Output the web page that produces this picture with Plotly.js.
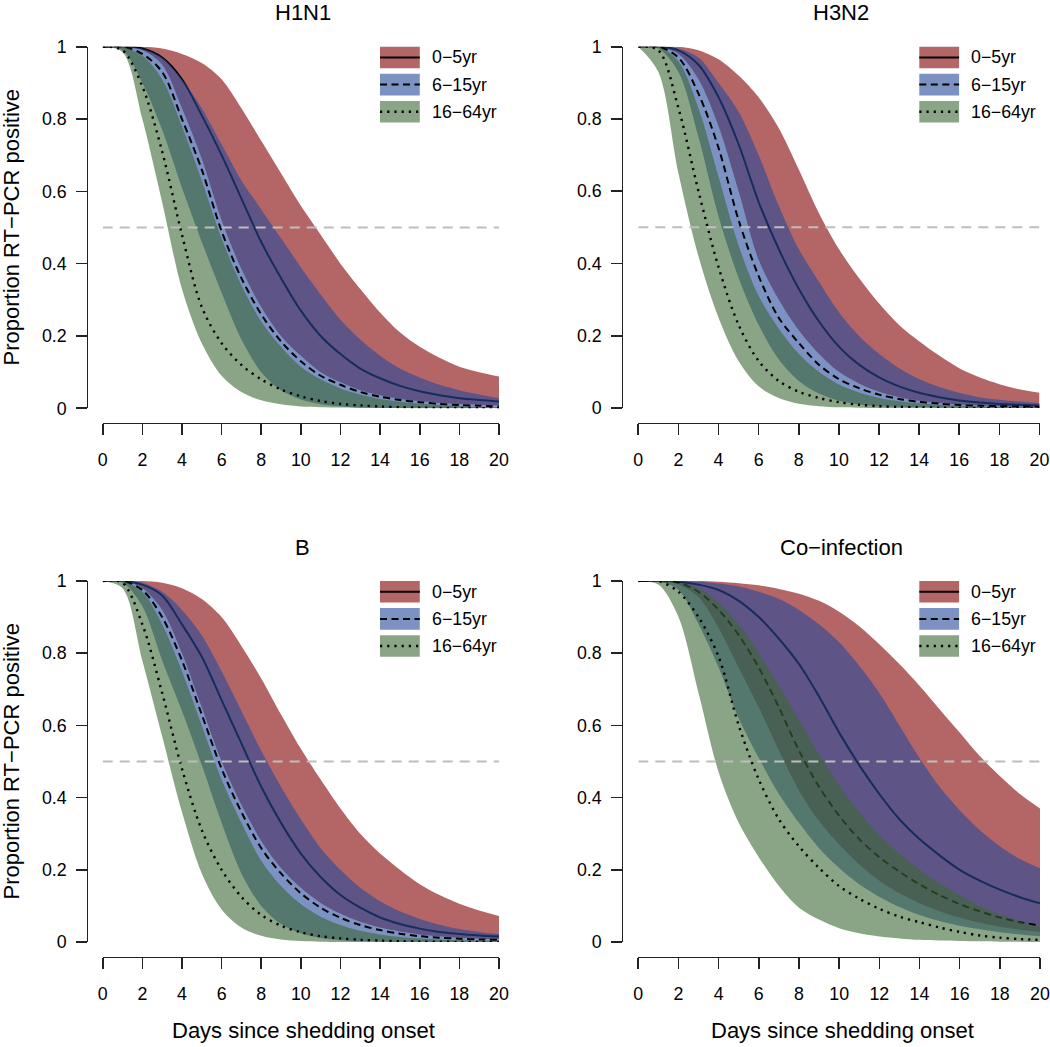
<!DOCTYPE html>
<html>
<head>
<meta charset="utf-8">
<script src="https://cdn.plot.ly/plotly-3.0.1.min.js"></script>
<style>
html,body{margin:0;padding:0;background:#fff;}
#chart{width:1050px;height:1047px;}
</style>
</head>
<body>
<div id="chart"></div>
<script>
// ---------------- DATA ----------------
const days = [0,1,2,3,4,5,6,7,8,9,10,11,12,13,14,15,16,17,18,19,20];
const panelTitles = ["H1N1", "H3N2", "B", "Co\u2212infection"];
const groupLabels = ["0\u22125yr", "6\u221215yr", "16\u221264yr"];

// H1N1
const h1n1_0to5_lo   = [1,1,0.99,0.95,0.83,0.69,0.52,0.385,0.28,0.2,0.145,0.1,0.072,0.05,0.036,0.026,0.02,0.015,0.012,0.01,0.008];
const h1n1_0to5_mid  = [1,1,0.995,0.97,0.91,0.81,0.70,0.58,0.46,0.36,0.27,0.2,0.15,0.11,0.083,0.062,0.047,0.036,0.028,0.023,0.019];
const h1n1_0to5_hi   = [1,1,1,0.995,0.98,0.955,0.91,0.83,0.74,0.65,0.56,0.48,0.40,0.33,0.265,0.21,0.17,0.14,0.115,0.1,0.088];
const h1n1_6to15_lo  = [1,0.99,0.9,0.77,0.61,0.46,0.32,0.19,0.1,0.05,0.024,0.011,0.005,0.002,0.001,0.0005,0,0,0,0,0];
const h1n1_6to15_mid = [1,1,0.98,0.93,0.80,0.66,0.49,0.36,0.26,0.185,0.13,0.09,0.065,0.045,0.032,0.023,0.017,0.012,0.009,0.007,0.005];
const h1n1_6to15_hi  = [1,1,0.995,0.97,0.91,0.83,0.73,0.63,0.55,0.47,0.39,0.315,0.245,0.19,0.145,0.11,0.085,0.065,0.05,0.038,0.028];
const h1n1_16to64_lo  = [1,0.985,0.8,0.57,0.33,0.18,0.09,0.045,0.022,0.011,0.005,0.003,0.002,0.001,0.0005,0,0,0,0,0,0];
const h1n1_16to64_mid = [1,0.99,0.89,0.71,0.48,0.28,0.18,0.12,0.08,0.052,0.033,0.02,0.012,0.008,0.005,0.003,0.002,0.001,0.001,0.0005,0];
const h1n1_16to64_hi  = [1,1,0.975,0.91,0.78,0.63,0.47,0.34,0.24,0.17,0.115,0.08,0.055,0.038,0.026,0.018,0.013,0.009,0.006,0.004,0.003];

// H3N2
const h3n2_0to5_lo   = [1,1,0.98,0.91,0.78,0.6,0.41,0.3,0.215,0.15,0.1,0.068,0.045,0.03,0.02,0.014,0.01,0.007,0.005,0.004,0.003];
const h3n2_0to5_mid  = [1,1,0.99,0.95,0.86,0.73,0.57,0.44,0.33,0.24,0.17,0.12,0.085,0.06,0.042,0.03,0.021,0.015,0.011,0.009,0.007];
const h3n2_0to5_hi   = [1,1,1,0.99,0.965,0.92,0.86,0.775,0.66,0.54,0.44,0.36,0.29,0.23,0.185,0.145,0.11,0.085,0.066,0.052,0.042];
const h3n2_6to15_lo  = [1,0.995,0.93,0.75,0.53,0.36,0.23,0.135,0.075,0.04,0.02,0.01,0.005,0.003,0.002,0.001,0.001,0,0,0,0];
const h3n2_6to15_mid = [1,1,0.97,0.87,0.72,0.52,0.365,0.25,0.18,0.12,0.08,0.055,0.037,0.025,0.017,0.012,0.008,0.006,0.005,0.004,0.003];
const h3n2_6to15_hi  = [1,1,0.995,0.97,0.9,0.82,0.7,0.56,0.44,0.35,0.265,0.2,0.15,0.11,0.08,0.058,0.042,0.03,0.023,0.018,0.014];
const h3n2_16to64_lo  = [1,0.93,0.65,0.42,0.25,0.13,0.06,0.028,0.012,0.005,0.002,0.001,0,0,0,0,0,0,0,0,0];
const h3n2_16to64_mid = [1,0.99,0.83,0.6,0.39,0.23,0.13,0.075,0.045,0.028,0.016,0.009,0.005,0.003,0.002,0.001,0,0,0,0,0];
const h3n2_16to64_hi  = [1,1,0.96,0.83,0.64,0.45,0.31,0.22,0.15,0.1,0.065,0.043,0.028,0.019,0.013,0.009,0.006,0.004,0.003,0.002,0.002];

// B
const b_0to5_lo   = [1,1,0.98,0.92,0.8,0.65,0.5,0.38,0.28,0.205,0.15,0.108,0.078,0.056,0.04,0.029,0.021,0.016,0.012,0.01,0.008];
const b_0to5_mid  = [1,1,0.99,0.96,0.88,0.79,0.67,0.55,0.43,0.33,0.245,0.18,0.13,0.095,0.068,0.05,0.037,0.028,0.022,0.018,0.015];
const b_0to5_hi   = [1,1,1,0.995,0.98,0.95,0.9,0.82,0.73,0.63,0.535,0.45,0.37,0.3,0.245,0.2,0.16,0.13,0.106,0.087,0.072];
const b_6to15_lo  = [1,0.995,0.93,0.78,0.64,0.49,0.33,0.19,0.1,0.05,0.024,0.011,0.005,0.002,0.001,0,0,0,0,0,0];
const b_6to15_mid = [1,1,0.975,0.9,0.78,0.63,0.48,0.36,0.26,0.19,0.135,0.095,0.067,0.047,0.033,0.023,0.016,0.012,0.009,0.007,0.006];
const b_6to15_hi  = [1,1,0.995,0.97,0.92,0.85,0.75,0.64,0.53,0.43,0.34,0.26,0.2,0.15,0.113,0.085,0.064,0.048,0.036,0.028,0.022];
const b_16to64_lo  = [1,0.98,0.78,0.57,0.36,0.19,0.09,0.04,0.017,0.007,0.003,0.001,0,0,0,0,0,0,0,0,0];
const b_16to64_mid = [1,0.995,0.88,0.69,0.48,0.31,0.2,0.125,0.075,0.045,0.027,0.016,0.01,0.006,0.004,0.002,0.001,0.001,0,0,0];
const b_16to64_hi  = [1,1,0.97,0.88,0.75,0.6,0.45,0.33,0.225,0.155,0.105,0.07,0.047,0.031,0.021,0.014,0.01,0.007,0.005,0.004,0.003];

// Co-infection
const co_0to5_lo   = [1,1,0.99,0.955,0.87,0.76,0.65,0.53,0.42,0.335,0.27,0.215,0.17,0.135,0.107,0.085,0.067,0.053,0.042,0.034,0.028];
const co_0to5_mid  = [1,1,0.998,0.99,0.975,0.945,0.9,0.84,0.77,0.68,0.58,0.49,0.41,0.34,0.285,0.24,0.2,0.17,0.145,0.124,0.107];
const co_0to5_hi   = [1,1,1,1,0.998,0.994,0.988,0.978,0.965,0.945,0.915,0.875,0.825,0.77,0.71,0.645,0.58,0.515,0.46,0.41,0.37];
const co_6to15_lo  = [1,1,0.975,0.88,0.76,0.62,0.51,0.41,0.33,0.26,0.205,0.16,0.125,0.097,0.075,0.058,0.045,0.035,0.027,0.021,0.016];
const co_6to15_mid = [1,1,0.995,0.97,0.92,0.85,0.76,0.65,0.53,0.43,0.35,0.285,0.235,0.195,0.16,0.13,0.105,0.085,0.068,0.055,0.045];
const co_6to15_hi  = [1,1,1,0.998,0.993,0.985,0.97,0.95,0.92,0.88,0.83,0.765,0.69,0.6,0.51,0.43,0.365,0.31,0.265,0.23,0.204];
const co_16to64_lo  = [1,0.99,0.9,0.69,0.47,0.33,0.235,0.155,0.095,0.062,0.038,0.024,0.015,0.01,0.006,0.004,0.003,0.002,0.001,0.001,0];
const co_16to64_mid = [1,1,0.97,0.9,0.79,0.6,0.45,0.34,0.265,0.205,0.155,0.12,0.092,0.07,0.055,0.04,0.028,0.018,0.012,0.008,0.006];
const co_16to64_hi  = [1,1,0.995,0.98,0.94,0.88,0.8,0.71,0.615,0.52,0.435,0.36,0.295,0.245,0.2,0.163,0.13,0.1,0.076,0.057,0.042];

const xTicks = [0,2,4,6,8,10,12,14,16,18,20];
const yTicks = [0,0.2,0.4,0.6,0.8,1];
const yTickText = ["0","0.2","0.4","0.6","0.8","1"];
const xTitle = "Days since shedding onset";
const yTitle = "Proportion RT\u2212PCR positive";

// ---------------- STYLE ----------------
const W = 1050, H = 1047;
const FONT = "'Liberation Sans', Arial, Helvetica, sans-serif";
const bandColors = ["rgba(130,0,0,0.6)", "rgba(37,73,155,0.6)", "rgba(60,103,53,0.6)"];
const lineDash = ["solid", "7px,4.5px", "2.2px,5px"];
const lineW = [2, 2, 2.4];
const px = v => v / W;
const py = v => 1 - v / H;

const panels = [
  {x:'x',  y:'y',  data:[[h1n1_0to5_lo,h1n1_0to5_mid,h1n1_0to5_hi],[h1n1_6to15_lo,h1n1_6to15_mid,h1n1_6to15_hi],[h1n1_16to64_lo,h1n1_16to64_mid,h1n1_16to64_hi]]},
  {x:'x2', y:'y2', data:[[h3n2_0to5_lo,h3n2_0to5_mid,h3n2_0to5_hi],[h3n2_6to15_lo,h3n2_6to15_mid,h3n2_6to15_hi],[h3n2_16to64_lo,h3n2_16to64_mid,h3n2_16to64_hi]]},
  {x:'x3', y:'y3', data:[[b_0to5_lo,b_0to5_mid,b_0to5_hi],[b_6to15_lo,b_6to15_mid,b_6to15_hi],[b_16to64_lo,b_16to64_mid,b_16to64_hi]]},
  {x:'x4', y:'y4', data:[[co_0to5_lo,co_0to5_mid,co_0to5_hi],[co_6to15_lo,co_6to15_mid,co_6to15_hi],[co_16to64_lo,co_16to64_mid,co_16to64_hi]]}
];

// pixel geometry of the panels
const geo = [
  {x0:102.7, x1:499.0, yTop:46.7, yBot:408.3, yAxisX:86.7, xAxisY:422.7, legX:380.0, legY:46.7, dashEnd:20},
  {x0:638.3, x1:1039.5, yTop:46.7, yBot:408.0, yAxisX:621.7, xAxisY:422.7, legX:919.3, legY:46.7, dashEnd:20.4},
  {x0:102.7, x1:499.0, yTop:581.0, yBot:942.0, yAxisX:86.7, xAxisY:956.7, legX:380.0, legY:581.0, dashEnd:20},
  {x0:638.3, x1:1040.0, yTop:581.0, yBot:942.0, yAxisX:621.7, xAxisY:956.7, legX:919.3, legY:581.0, dashEnd:20.4}
];

const traces = [];
panels.forEach((p) => {
  p.data.forEach((g, gi) => {
    const [lo, mid, hi] = g;
    traces.push({x: days, y: lo, xaxis: p.x, yaxis: p.y, type: 'scatter', mode: 'lines',
      line: {width: 0, shape: 'spline', smoothing: 0.9}, hoverinfo: 'skip', showlegend: false});
    traces.push({x: days, y: hi, xaxis: p.x, yaxis: p.y, type: 'scatter', mode: 'lines',
      fill: 'tonexty', fillcolor: bandColors[gi],
      line: {width: 0, shape: 'spline', smoothing: 0.9}, hoverinfo: 'skip', showlegend: false});
    traces.push({x: days, y: mid, xaxis: p.x, yaxis: p.y, type: 'scatter', mode: 'lines',
      line: {width: lineW[gi], color: '#000', dash: lineDash[gi], shape: 'spline', smoothing: 0.9},
      hoverinfo: 'skip', showlegend: false});
  });
});

const axisCommon = {
  showgrid: false, zeroline: false, showline: true, linecolor: '#222', linewidth: 1.6,
  ticks: 'outside', ticklen: 10.5, tickwidth: 1.6, tickcolor: '#222',
  tickfont: {family: FONT, size: 17.8, color: '#000'}, fixedrange: true, automargin: false
};

const layout = {
  width: W, height: H,
  margin: {l: 0, r: 0, t: 0, b: 0},
  paper_bgcolor: '#fff', plot_bgcolor: 'rgba(0,0,0,0)',
  showlegend: false,
  font: {family: FONT, color: '#000'},
  shapes: [], annotations: []
};

const axNames = [['xaxis','yaxis'],['xaxis2','yaxis2'],['xaxis3','yaxis3'],['xaxis4','yaxis4']];
geo.forEach((g, i) => {
  layout[axNames[i][0]] = Object.assign({}, axisCommon, {
    domain: [px(g.x0), px(g.x1)], range: [0, 20], tickmode: 'array', tickvals: xTicks,
    ticktext: xTicks.map(String), anchor: 'free', position: py(g.xAxisY), ticklabelstandoff: 10
  });
  layout[axNames[i][1]] = Object.assign({}, axisCommon, {
    domain: [py(g.yBot), py(g.yTop)], range: [0, 1], tickmode: 'array', tickvals: yTicks,
    ticktext: yTickText, anchor: 'free', position: px(g.yAxisX), ticklabelstandoff: 6
  });
  // reference line at 0.5
  layout.shapes.push({type: 'line', xref: panels[i].x, yref: panels[i].y, x0: 0, x1: g.dashEnd, y0: 0.5, y1: 0.5,
    line: {color: 'rgb(190,190,190)', width: 2, dash: '10px,7px'}, layer: 'above'});
  // panel title
  layout.annotations.push({text: panelTitles[i], xref: 'paper', yref: 'paper',
    x: px((g.x0 + g.x1) / 2 + 2), y: py(g.yTop - 34), xanchor: 'center', yanchor: 'middle',
    showarrow: false, font: {family: FONT, size: 22, color: '#000'}});
  // legend (box + line + label)
  for (let k = 0; k < 3; k++) {
    const top = g.legY + k * 27.1, bh = 21.6, bw = 39.8;
    layout.shapes.push({type: 'rect', xref: 'paper', yref: 'paper',
      x0: px(g.legX), x1: px(g.legX + bw), y0: py(top + bh), y1: py(top),
      fillcolor: bandColors[k], line: {width: 0}, layer: 'above'});
    layout.shapes.push({type: 'line', xref: 'paper', yref: 'paper',
      x0: px(g.legX), x1: px(g.legX + bw), y0: py(top + bh / 2), y1: py(top + bh / 2),
      line: {color: '#000', width: lineW[k], dash: lineDash[k]}, layer: 'above'});
    layout.annotations.push({text: groupLabels[k], xref: 'paper', yref: 'paper',
      x: px(g.legX + 50), y: py(top + bh / 2), xanchor: 'left', yanchor: 'middle',
      showarrow: false, font: {family: FONT, size: 17.8, color: '#000'}});
  }
});

// axis titles
[0, 2].forEach(i => {
  const g = geo[i];
  layout.annotations.push({text: yTitle, xref: 'paper', yref: 'paper', x: px(11), y: py((g.yTop + g.yBot) / 2),
    xanchor: 'center', yanchor: 'middle', textangle: -90, showarrow: false,
    font: {family: FONT, size: 22, color: '#000'}});
});
[2, 3].forEach(i => {
  const g = geo[i];
  layout.annotations.push({text: xTitle, xref: 'paper', yref: 'paper', x: px((g.x0 + g.x1) / 2 + 3), y: py(1030),
    xanchor: 'center', yanchor: 'middle', showarrow: false,
    font: {family: FONT, size: 22, color: '#000'}});
});

Plotly.newPlot('chart', traces, layout, {displayModeBar: false, staticPlot: true});
</script>
</body>
</html>
